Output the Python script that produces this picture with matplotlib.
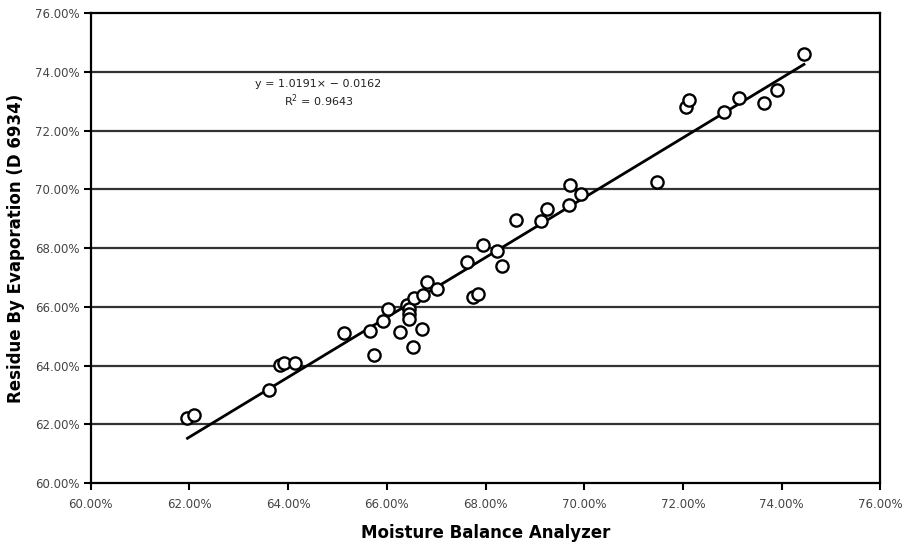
import matplotlib
matplotlib.use("Agg")
import matplotlib.pyplot as plt
import numpy as np
from matplotlib.ticker import FuncFormatter

# Data (percent)
mba = [61.96, 62.09, 63.61, 63.84, 63.92, 64.14, 65.13, 65.65, 65.73, 65.93,
       66.02, 66.27, 66.40, 66.44, 66.44, 66.44, 66.52, 66.54, 66.71, 66.73,
       66.82, 67.02, 67.63, 67.74, 67.85, 67.94, 68.24, 68.34, 68.61, 69.12,
       69.24, 69.69, 69.71, 69.93, 71.47, 72.06, 72.13, 72.83, 73.14, 73.64,
       73.90, 74.45]
rbe = [62.20, 62.31, 63.16, 64.01, 64.07, 64.07, 65.11, 65.17, 64.35, 65.52,
       65.94, 65.13, 66.05, 65.94, 65.77, 65.60, 64.62, 66.30, 65.23, 66.39,
       66.83, 66.62, 67.52, 66.34, 66.45, 68.10, 67.89, 67.40, 68.97, 68.91,
       69.34, 69.48, 70.14, 69.83, 70.24, 72.80, 73.03, 72.64, 73.12, 72.94,
       73.37, 74.62]
slope = 1.0191
intercept = -0.0162
r2 = 0.9643
ticks = [0.60, 0.62, 0.64, 0.66, 0.68, 0.70, 0.72, 0.74, 0.76]

x = np.array(mba) / 100.0
y = np.array(rbe) / 100.0

fig = plt.figure(figsize=(9.08, 5.43), dpi=100)
ax = fig.add_axes([0.0999, 0.1105, 0.8698, 0.8655])

for t in ticks[1:-1]:
    ax.axhline(t, color="#333333", lw=1.6, zorder=1)

xl = np.array([x.min(), x.max()])
ax.plot(xl, slope * xl + intercept, color="black", lw=2.0, zorder=2)
ax.plot(x, y, linestyle="none", marker="o", markersize=8.8,
        markerfacecolor="white", markeredgecolor="black", markeredgewidth=1.7,
        zorder=3)

ax.set_xlim(0.60, 0.76)
ax.set_ylim(0.60, 0.76)
ax.set_xticks(ticks)
ax.set_yticks(ticks)
fmt = FuncFormatter(lambda v, p: f"{v*100:.2f}%")
ax.xaxis.set_major_formatter(fmt)
ax.yaxis.set_major_formatter(fmt)
ax.tick_params(axis="both", direction="out", length=5, width=1.5,
               labelsize=8.5, labelcolor="#444444", color="black")
ax.tick_params(axis="x", pad=6)
ax.tick_params(axis="y", pad=3)
for s in ax.spines.values():
    s.set_linewidth(1.6)
    s.set_color("black")

ax.set_xlabel("Moisture Balance Analyzer", fontsize=12, fontweight="bold",
              labelpad=9)
ax.set_ylabel("Residue By Evaporation (D 6934)", fontsize=12,
              fontweight="bold", labelpad=7)

ax.text(0.6461, 0.7357, f"y = {slope:.4f}\u00d7 \u2212 {abs(intercept):.4f}",
        fontsize=8, ha="center", va="center", color="#222222")
ax.text(0.6461, 0.7300, f"R$^2$ = {r2:.4f}", fontsize=8, ha="center",
        va="center", color="#222222")

fig.savefig("out.png", dpi=100)
